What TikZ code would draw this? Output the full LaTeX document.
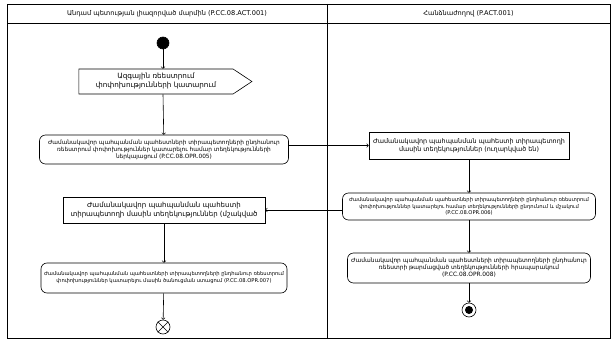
\documentclass[tikz,border=0pt]{standalone}
\usepackage{fontspec}
\setmainfont{DejaVu Sans}
\usetikzlibrary{arrows,positioning,shapes.symbols}

\tikzset{
  lane/.style={font=\fontsize{6.6}{8}\selectfont},
  act/.style={draw, rounded corners=6pt, align=center, inner sep=1pt},
  obj/.style={draw, align=center, inner sep=1pt},
  flow/.style={->, >=to}
}

\begin{document}
\begin{tikzpicture}[x=1pt,y=-1pt,line width=.6pt]
\useasboundingbox (0,0) rectangle (612,342);
% Swimlanes
\draw (7,4) rectangle (610,338);
\draw (7,23) -- (610,23);
\draw (327,4) -- (327,338);
\coordinate (H1) at (167,13.5);
\coordinate (H2) at (468.5,13.5);
\node[lane] (laneA) at (H1) {Անդամ պետության լիազորված մարմին (P.CC.08.ACT.001)};
\node[lane] (laneB) at (H2) {Հանձնաժողով (P.ACT.001)};
%
% Left lane
\coordinate (A0) at (163,43);
\coordinate (A1) at (156,81.5);
\coordinate (A2) at (164,149.5);
\coordinate (A3) at (164,210);
\coordinate (A4) at (164,278);
\coordinate (A5) at (163,327);
\node[draw,fill,circle,minimum size=12pt,inner sep=0pt] (start) at (A0) {};
\node[draw,signal,signal to=east,signal pointer angle=67,minimum width=173pt,minimum height=25pt,
  align=center,inner sep=1pt,font=\fontsize{7.2}{9}\selectfont] (sig) at (A1)
  {Ազգային ռեեստրում\\փոփոխությունների կատարում};
\node[act,minimum width=249pt,minimum height=29pt,font=\fontsize{5.8}{7}\selectfont] (opr5) at (A2)
  {Ժամանակավոր պահպանման պահեստների տիրապետողների ընդհանուր\\ռեեստրում փոփոխություններ կատարելու համար տեղեկությունների\\ներկայացում (P.CC.08.OPR.005)};
\node[obj,minimum width=202pt,minimum height=26pt,font=\fontsize{7}{9}\selectfont] (obj2) at (A3)
  {Ժամանակավոր պահպանման պահեստի\\տիրապետողի մասին տեղեկություններ (մշակված};
\node[act,minimum width=246pt,minimum height=30pt,font=\fontsize{5.2}{7}\selectfont] (opr7) at (A4)
  {Ժամանակավոր պահպանման պահեստների տիրապետողների ընդհանուր ռեեստրում\\փոփոխություններ կատարելու մասին ծանուցման ստացում (P.CC.08.OPR.007)};
\node[draw,circle,minimum size=14pt,inner sep=0pt] (stop) at (A5) {};
\draw (stop.north west) -- (stop.south east) (stop.north east) -- (stop.south west);
%
% Right lane
\coordinate (B1) at (469,145.5);
\coordinate (B2) at (469,206.5);
\coordinate (B3) at (469,268);
\coordinate (B4) at (469,310);
\node[obj,minimum width=200pt,minimum height=27pt,font=\fontsize{6.4}{8}\selectfont] (obj1) at (B1)
  {Ժամանակավոր պահպանման պահեստի տիրապետողի\\մասին տեղեկություններ (ուղարկված են)};
\node[act,minimum width=253pt,minimum height=27pt,font=\fontsize{5.2}{6.6}\selectfont] (opr6) at (B2)
  {Ժամանակավոր պահպանման պահեստների տիրապետողների ընդհանուր ռեեստրում\\փոփոխություններ կատարելու համար տեղեկությունների ընդունում և մշակում\\(P.CC.08.OPR.006)};
\node[act,minimum width=243pt,minimum height=30pt,font=\fontsize{5.9}{7}\selectfont] (opr8) at (B3)
  {Ժամանակավոր պահպանման պահեստների տիրապետողների ընդհանուր\\ռեեստրի թարմացված տեղեկությունների հրապարակում\\(P.CC.08.OPR.008)};
\node[draw,circle,minimum size=14pt,inner sep=0pt] (final) at (B4) {};
\node[fill,circle,minimum size=8pt,inner sep=0pt] (finaldot) at (final) {};
%
% Flows
\draw[flow] (start) -- (start |- sig.north);
\draw[flow] (sig.south -| start) -- (opr5);
\draw[flow] (obj1.west -| opr5.east) -- (obj1.west);
\draw[flow] (obj1) -- (opr6);
\draw[flow] (obj2.east -| opr6.west) -- (obj2.east);
\draw[flow] (obj2) -- (opr7);
\draw[flow] (opr7) -- (stop);
\draw[flow] (opr6) -- (opr8);
\draw[flow] (opr8) -- (final);
\end{tikzpicture}
\end{document}
